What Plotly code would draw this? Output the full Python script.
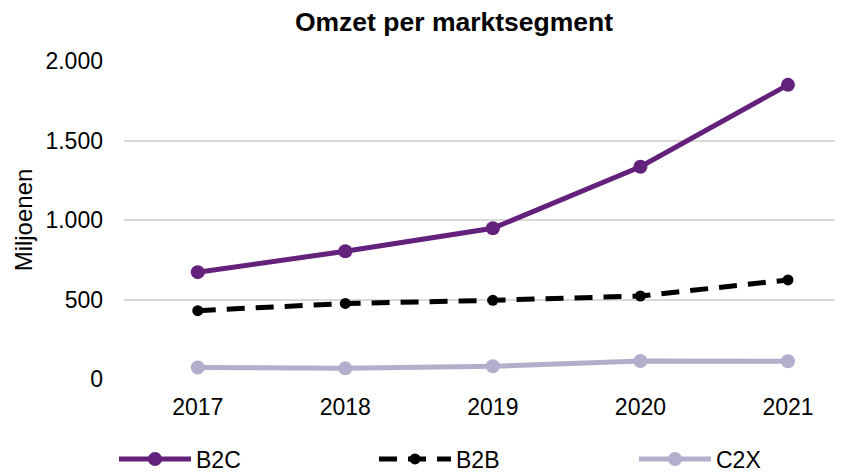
import plotly.graph_objects as go

years = ["2017", "2018", "2019", "2020", "2021"]
b2c = [672, 803, 948, 1335, 1850]
b2b = [430, 475, 495, 522, 623]
c2x = [72, 67, 80, 113, 112]

FONT = "Liberation Sans, Arial, sans-serif"
# the page places the figure 8px in from the top-left corner
W, H = 835, 465

fig = go.Figure()
fig.add_trace(go.Scatter(x=years, y=b2c, name="B2C", mode="lines+markers",
                         line=dict(color="#63217c", width=5),
                         marker=dict(size=14, color="#63217c"), legend="legend"))
fig.add_trace(go.Scatter(x=years, y=b2b, name="B2B", mode="lines+markers",
                         line=dict(color="#000000", width=5, dash="18px,11px"),
                         marker=dict(size=11, color="#000000"), legend="legend2"))
fig.add_trace(go.Scatter(x=years, y=c2x, name="C2X", mode="lines+markers",
                         line=dict(color="#b3aecb", width=5),
                         marker=dict(size=14, color="#b3aecb"), legend="legend3"))

def leg(xpx):
    return dict(orientation="h", x=xpx / W, xanchor="left", xref="container",
                y=1 - 451 / H, yanchor="middle", yref="container",
                itemwidth=72, font=dict(size=23, color="#000000"),
                bgcolor="rgba(0,0,0,0)", borderwidth=0)

fig.update_layout(
    width=W, height=H,
    paper_bgcolor="white", plot_bgcolor="white",
    separators=",.",
    margin=dict(l=116, r=0, t=53, b=94),
    title=dict(text="<b>Omzet per marktsegment</b>", x=446 / W, xanchor="center",
               y=1 - 14 / H, yanchor="middle",
               font=dict(family=FONT, size=26.5, color="#000000")),
    font=dict(family=FONT, color="#000000"),
    xaxis=dict(range=[-0.5, 4.373], showgrid=False, showline=False, ticks="",
               tickfont=dict(size=23, color="#000000"), ticklabelstandoff=12),
    yaxis=dict(range=[0, 2000], tickvals=[0, 500, 1000, 1500, 2000], tickformat=",d",
               showgrid=True, gridcolor="#d9d9d9", gridwidth=1.5, zeroline=False,
               showline=False, ticks="", tickfont=dict(size=23, color="#000000"),
               ticklabelstandoff=20,
               title=dict(text="Miljoenen", font=dict(size=24, color="#000000"), standoff=6)),
    legend=leg(106),
    legend2=leg(366),
    legend3=leg(626),
    showlegend=True,
)

fig.write_html("out.html")
